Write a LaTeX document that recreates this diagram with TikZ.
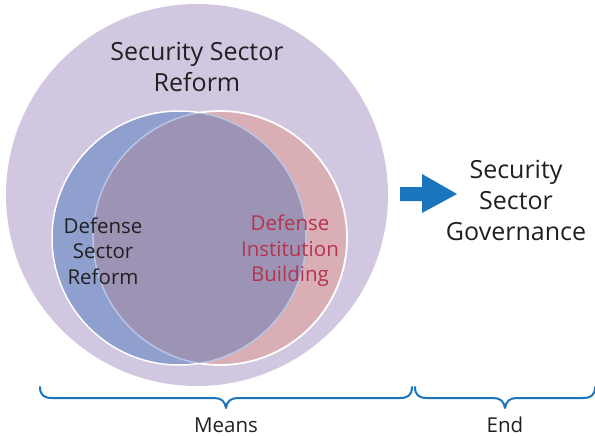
\documentclass[tikz,border=0pt]{standalone}
\usepackage{fontspec}
\setmainfont{Open Sans}
\definecolor{sspurple}{HTML}{D2C7E1}
\definecolor{dsblue}{HTML}{8FA0CF}
\definecolor{dibred}{HTML}{D9AFB5}
\definecolor{overlapc}{HTML}{9C93B5}
\definecolor{edgeblue}{HTML}{B8C5E6}
\definecolor{txt}{HTML}{231F20}
\definecolor{redtxt}{HTML}{B5344C}
\definecolor{randblue}{HTML}{1B75BC}
\begin{document}
\begin{tikzpicture}[x=1pt,y=-1pt,
  bigtxt/.style={font=\fontsize{25}{31}\selectfont, text=txt, align=center, inner sep=0pt},
  midtxt/.style={font=\fontsize{20.5}{25.5}\selectfont, align=center, inner sep=0pt},
  bracestyle/.style={draw=randblue, line width=2pt, line cap=round, line join=round},
  ]
\useasboundingbox (0,0) rectangle (595,436);
% big circle
\fill[sspurple] (197,195) circle (191);
% blue and red circles
\coordinate (cb) at (179,238);
\coordinate (cr) at (220,238);
\fill[dsblue] (cb) circle (127);
\fill[dibred] (cr) circle (127);
\begin{scope}
  \clip (cb) circle (127);
  \fill[overlapc] (cr) circle (127);
  \draw[edgeblue, line width=1.5pt] (cr) circle (127);
\end{scope}
\begin{scope}
  \clip (cr) circle (127);
  \draw[edgeblue, line width=1.5pt] (cb) circle (127);
\end{scope}
\begin{scope}[even odd rule]
  \clip (-10,-10) rectangle (610,450) (cr) circle (127);
  \draw[white, line width=1.5pt] (cb) circle (127);
\end{scope}
\begin{scope}[even odd rule]
  \clip (-10,-10) rectangle (610,450) (cb) circle (127);
  \draw[white, line width=1.8pt] (cr) circle (127);
\end{scope}
% texts
\node[bigtxt] (ssr) at (197,67) {Security Sector\\Reform};
\node[midtxt, text=txt] (dsr) at (103,251) {Defense\\Sector\\Reform};
\node[midtxt, text=redtxt] (dib) at (290,251) {Defense\\Institution\\Building};
\node[bigtxt] (ssg) at (516,200) {Security\\Sector\\Governance};
% block arrow
\fill[randblue] (400,187) -- (422,187) -- (422,174) -- (457,194) -- (422,213)
  -- (422,201) -- (400,201) -- cycle;
% braces
\coordinate (m1) at (40,387);
\coordinate (m2) at (412,387);
\coordinate (mt) at (226,408);
\coordinate (e1) at (415,387);
\coordinate (e2) at (595,387);
\coordinate (et) at (505,408);
\draw[bracestyle] (m1) .. controls (40,395) and (44,398) .. (52,398)
  -- (214,398) .. controls (221,398) and (225,401) .. (mt)
  .. controls (227,401) and (231,398) .. (238,398)
  -- (400,398) .. controls (408,398) and (412,395) .. (m2);
\draw[bracestyle] (e1) .. controls (415,395) and (419,398) .. (427,398)
  -- (493,398) .. controls (500,398) and (504,401) .. (et)
  .. controls (506,401) and (510,398) .. (517,398)
  -- (583,398) .. controls (591,398) and (595,395) .. (e2);
\node[midtxt, text=txt, anchor=base] (means) at (226,432) {Means};
\node[midtxt, text=txt, anchor=base] (end) at (505,432) {End};
\end{tikzpicture}
\end{document}
